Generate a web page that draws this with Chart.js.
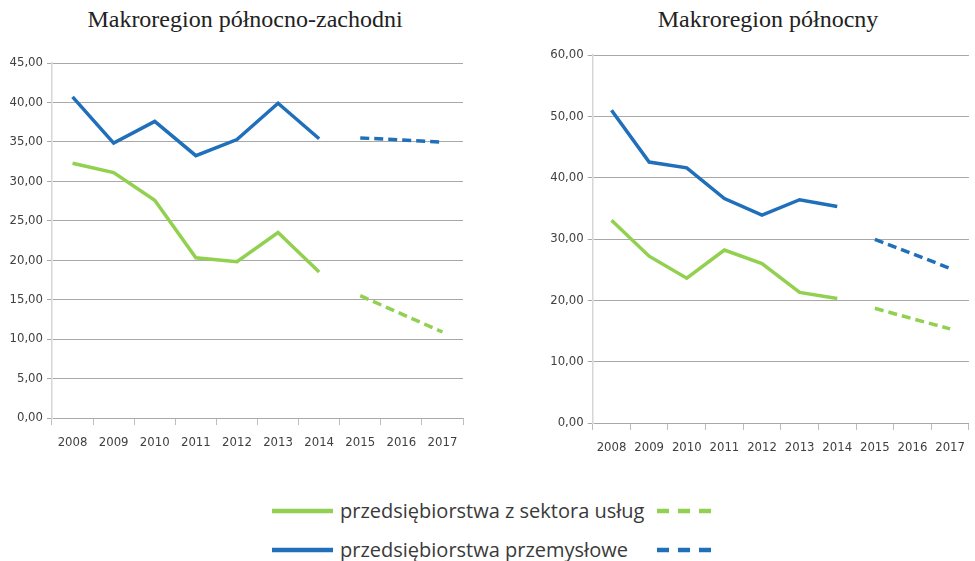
<!DOCTYPE html>
<html lang="pl">
<head>
<meta charset="utf-8">
<title>Makroregiony</title>
<script src="https://cdn.jsdelivr.net/npm/chart.js@4/dist/chart.umd.min.js"></script>
<style>
  html, body { margin: 0; padding: 0; background: #fff; }
  body { width: 975px; height: 561px; position: relative; overflow: hidden; }
  .title {
    position: absolute; top: 6px; font-family: "Liberation Serif", "DejaVu Serif", serif;
    font-size: 24px; color: #222; white-space: nowrap; transform: translateX(-50%);
  }
  .box { position: absolute; }
  .legend {
    position: absolute; left: 272px; font-family: "Open Sans", "Liberation Sans", sans-serif;
    font-size: 20px; color: #3a3a3a; white-space: nowrap; display: flex; align-items: center;
  }
  .legend svg { display: block; }
  .legend span { margin: 0 6px 0 7px; }
</style>
</head>
<body>
<div class="title" style="left:245px">Makroregion północno-zachodni</div>
<div class="title" style="left:768px">Makroregion północny</div>
<div class="box" style="left:0;top:40px;width:470px;height:420px"><canvas id="chartNW"></canvas></div>
<div class="box" style="left:540px;top:30px;width:435px;height:435px"><canvas id="chartN"></canvas></div>
<div id="legend"></div>
<script>
const years = ['2008', '2009', '2010', '2011', '2012', '2013', '2014', '2015', '2016', '2017'];

// Makroregion północno-zachodni
const nwServices = [32.3, 31.1, 27.6, 20.3, 19.8, 23.5, 18.5, null, null, null];
const nwServicesForecast = [null, null, null, null, null, null, null, 15.5, 13.2, 10.9];
const nwIndustry = [40.7, 34.85, 37.6, 33.25, 35.3, 39.9, 35.4, null, null, null];
const nwIndustryForecast = [null, null, null, null, null, null, null, 35.5, 35.25, 34.95];

// Makroregion północny
const nServices = [33.05, 27.2, 23.6, 28.2, 26.0, 21.3, 20.3, null, null, null];
const nServicesForecast = [null, null, null, null, null, null, null, 18.7, 17.0, 15.35];
const nIndustry = [51.0, 42.55, 41.6, 36.6, 33.9, 36.4, 35.3, null, null, null];
const nIndustryForecast = [null, null, null, null, null, null, null, 29.95, 27.6, 25.2];

const legendLabels = ['przedsiębiorstwa z sektora usług', 'przedsiębiorstwa przemysłowe'];

const GREEN = '#92d050';
const BLUE = '#1f6fba';
const TEXT = '#404040';
const TICK_FONT = { family: '"DejaVu Sans Condensed", "Liberation Sans", sans-serif', size: 13 };

const fmt = (v) => v.toFixed(2).replace('.', ',');

function line(data, color, dashed) {
  return {
    data,
    borderColor: color,
    borderWidth: 3.5,
    borderDash: dashed ? [9, 5] : [],
    pointRadius: 0,
    tension: 0,
    spanGaps: false,
  };
}

function buildChart(id, datasets, max, step, opts) {
  return new Chart(document.getElementById(id), {
    type: 'line',
    data: { labels: years, datasets },
    options: {
      responsive: true,
      maintainAspectRatio: false,
      animation: false,
      layout: { padding: opts.padding },
      plugins: { legend: { display: false }, tooltip: { enabled: false } },
      scales: {
        x: {
          offset: true,
          grid: { offset: true, drawOnChartArea: false, color: '#bdbdbd', tickLength: 7 },
          border: { display: false },
          ticks: { color: TEXT, font: TICK_FONT, padding: 10, maxRotation: 0, autoSkip: false },
          afterFit: (s) => { s.height = 39; },
        },
        y: {
          min: 0,
          max,
          grid: { color: '#a8a8a8', tickLength: 5, lineWidth: 1 },
          border: { display: true, color: '#d6d6d6', width: 1.5 },
          ticks: { stepSize: step, color: TEXT, font: TICK_FONT, padding: 4, callback: fmt },
          afterFit: (s) => { s.width = opts.axisWidth; },
        },
      },
    },
  });
}

buildChart('chartNW', [
  line(nwServices, GREEN, false),
  line(nwServicesForecast, GREEN, true),
  line(nwIndustry, BLUE, false),
  line(nwIndustryForecast, BLUE, true),
], 45, 5, { axisWidth: 52, padding: { top: 23, right: 7, bottom: 3, left: 0 } });

buildChart('chartN', [
  line(nServices, GREEN, false),
  line(nServicesForecast, GREEN, true),
  line(nIndustry, BLUE, false),
  line(nIndustryForecast, BLUE, true),
], 60, 10, { axisWidth: 52.7, padding: { top: 25, right: 0, bottom: 3, left: 0 } });

function initLegend() {
  const root = document.getElementById('legend');
  [[GREEN, 497], [BLUE, 536]].forEach(([color, top], i) => {
    const row = document.createElement('div');
    row.className = 'legend';
    row.style.top = top + 'px';
    row.innerHTML = `
      <svg width="61" height="8"><line x1="0" y1="4" x2="61" y2="4" stroke="${color}" stroke-width="4.5"/></svg>
      <span>${legendLabels[i]}</span>
      <svg width="58" height="8" style="position:absolute;left:385px"><line x1="0" y1="4" x2="58" y2="4" stroke="${color}" stroke-width="4.5" stroke-dasharray="12 9"/></svg>
    `;
    root.appendChild(row);
  });
}

initLegend();
</script>
</body>
</html>
